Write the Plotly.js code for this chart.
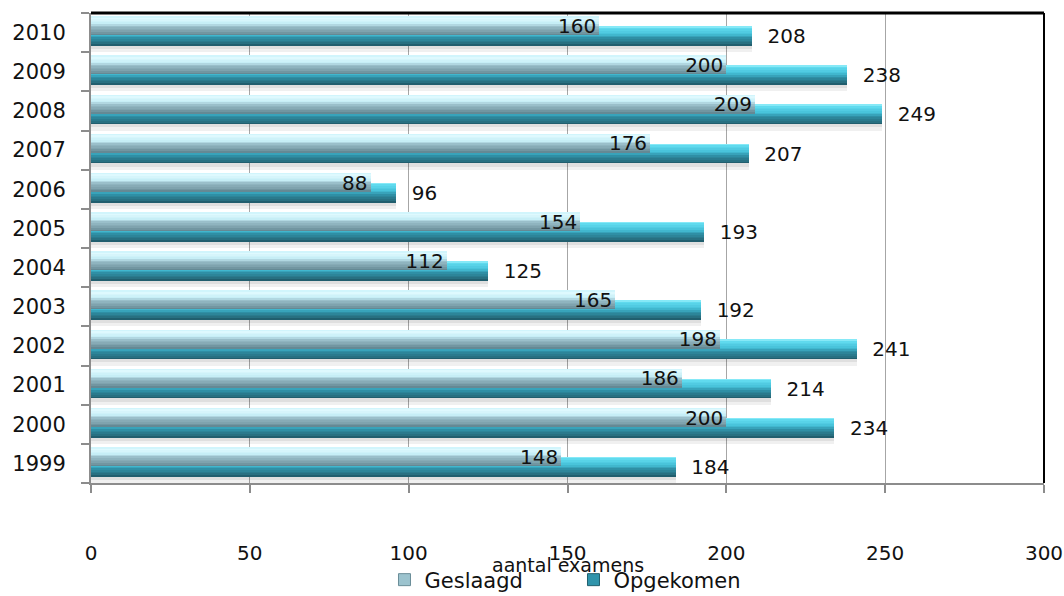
<!DOCTYPE html>
<html>
<head>
<meta charset="utf-8">
<script src="https://cdn.plot.ly/plotly-3.0.1.min.js"></script>
<style>html,body{margin:0;padding:0;background:#fff}#chart{width:1064px;height:596px}</style>
</head>
<body>
<div id="chart"></div>
<script>
const years = ['1999','2000','2001','2002','2003','2004','2005','2006','2007','2008','2009','2010'];
const geslaagd = [148, 200, 186, 198, 165, 112, 154, 88, 176, 209, 200, 160];
const opgekomen = [184, 234, 214, 241, 192, 125, 193, 96, 207, 249, 238, 208];
const seriesNames = ['Geslaagd', 'Opgekomen'];

const FONT = 'DejaVu Sans, sans-serif';

// key colours (fraction from top, colour) used to imitate the bevelled gradient
const opgKeys = [[0, '#a0f2fc'], [0.1, '#62dcf0'], [0.42, '#45c0d8'], [0.62, '#2f90a6'], [0.88, '#286f80'], [1, '#1d5564']];
const gesKeys = [[0, '#bfeff8'], [0.08, '#e2fbff'], [0.38, '#c6eef6'], [0.56, '#95bac5'], [0.8, '#7ea2ad'], [1, '#5f838e']];

function hex2rgb(h) { return [1, 3, 5].map(i => parseInt(h.substr(i, 2), 16)); }
function colorAt(keys, f) {
  for (let i = 0; i < keys.length - 1; i++) {
    const [a, ca] = keys[i], [b, cb] = keys[i + 1];
    if (f >= a && f <= b) {
      const t = (f - a) / (b - a), A = hex2rgb(ca), B = hex2rgb(cb);
      return 'rgb(' + A.map((v, k) => Math.round(v + (B[k] - v) * t)).join(',') + ')';
    }
  }
  return keys[keys.length - 1][1];
}

function stripes(values, top, bottom, keys, name, n) {
  const h = top - bottom, out = [];
  for (let i = 0; i < n; i++) {
    const f0 = i / n, f1 = (i + 1) / n;
    out.push({
      type: 'bar', orientation: 'h', x: values, y: years, name: name,
      offset: top - f1 * h, width: (f1 - f0) * h + (i < n - 1 ? 0.008 : 0),
      marker: {color: colorAt(keys, (f0 + f1) / 2), line: {width: 0}},
      showlegend: false, hoverinfo: 'skip'
    });
  }
  return out;
}

const gTop = 0.41, gBot = -0.07;
const oTop = 0.16, oBot = -0.34;

const traces = [];
// soft shadow under the back bars
traces.push({type: 'bar', orientation: 'h', x: opgekomen, y: years, offset: oBot - 0.16, width: 0.16,
  marker: {color: 'rgba(0,0,0,0.06)', line: {width: 0}}, showlegend: false, hoverinfo: 'skip'});
traces.push({type: 'bar', orientation: 'h', x: opgekomen, y: years, offset: oBot - 0.08, width: 0.08,
  marker: {color: 'rgba(0,0,0,0.07)', line: {width: 0}}, showlegend: false, hoverinfo: 'skip'});
traces.push(...stripes(opgekomen, oTop, oBot, opgKeys, seriesNames[1], 12));
traces.push({type: 'bar', orientation: 'h', x: opgekomen, y: years, name: seriesNames[1],
  offset: oBot, width: oTop - oBot, marker: {color: 'rgba(0,0,0,0)', line: {width: 0}},
  text: opgekomen.map(v => '\u00a0\u00a0' + v), textposition: 'outside', constraintext: 'none',
  textfont: {family: FONT, size: 20, color: '#111'}, cliponaxis: false,
  showlegend: false});
traces.push(...stripes(geslaagd, gTop, gBot, gesKeys, seriesNames[0], 12));
traces.push({type: 'bar', orientation: 'h', x: geslaagd, y: years, name: seriesNames[0],
  offset: gBot, width: gTop - gBot, marker: {color: 'rgba(0,0,0,0)', line: {width: 0}},
  text: geslaagd.map(String), textposition: 'inside', insidetextanchor: 'end', constraintext: 'none',
  textfont: {family: FONT, size: 20, color: '#111'},
  showlegend: false});
// legend entries
traces.push({type: 'bar', orientation: 'h', x: [null], y: [years[0]], name: seriesNames[0],
  marker: {color: '#9cc3ce', line: {color: '#6a8d98', width: 1}}, legendrank: 1});
traces.push({type: 'bar', orientation: 'h', x: [null], y: [years[0]], name: seriesNames[1],
  marker: {color: '#2f94ab', line: {color: '#22606e', width: 1}}, legendrank: 2});

const layout = {
  width: 1064, height: 596,
  margin: {l: 91, r: 20, t: 13, b: 113},
  paper_bgcolor: '#fff', plot_bgcolor: '#fff',
  barmode: 'overlay', bargap: 0,
  font: {family: FONT, size: 20, color: '#111'},
  xaxis: {
    range: [0, 300], dtick: 50, tick0: 0,
    showgrid: true, gridcolor: '#a6a6a6', gridwidth: 1, zeroline: false,
    showline: true, linecolor: '#8c8c8c', linewidth: 2,
    ticks: 'outside', ticklen: 8, tickcolor: '#8c8c8c', tickwidth: 2,
    ticklabelstandoff: 43,
    tickfont: {family: FONT, size: 20, color: '#111'},
    title: {text: ''}
  },
  yaxis: {
    type: 'category', categoryorder: 'array', categoryarray: years,
    range: [-0.5, 11.5],
    tickson: 'boundaries', ticks: 'outside', ticklen: 8, tickcolor: '#8c8c8c', tickwidth: 2,
    showgrid: false, zeroline: false,
    showline: true, linecolor: '#8c8c8c', linewidth: 2,
    ticklabelstandoff: 19,
    tickfont: {family: FONT, size: 21, color: '#111'}
  },
  legend: {
    orientation: 'h', xref: 'container', yref: 'container',
    x: 0.539, xanchor: 'center', y: 1 - 580 / 596, yanchor: 'middle',
    font: {family: FONT, size: 21, color: '#111'},
    entrywidth: 144, itemwidth: 30, bgcolor: 'rgba(0,0,0,0)'
  },
  annotations: [{
    text: 'aantal examens', xref: 'paper', yref: 'paper', x: 0.5, y: -0.175,
    xanchor: 'center', yanchor: 'middle', showarrow: false,
    font: {family: FONT, size: 19, color: '#111'}
  }],
  shapes: [
    {type: 'line', xref: 'paper', yref: 'paper', x0: 0, x1: 1, y0: 1, y1: 1, line: {color: '#000', width: 3}},
    {type: 'line', xref: 'paper', yref: 'paper', x0: 1, x1: 1, y0: 0, y1: 1, line: {color: '#000', width: 2}}
  ],
  showlegend: true
};

Plotly.newPlot('chart', traces, layout, {displayModeBar: false, staticPlot: true});
</script>
</body>
</html>
